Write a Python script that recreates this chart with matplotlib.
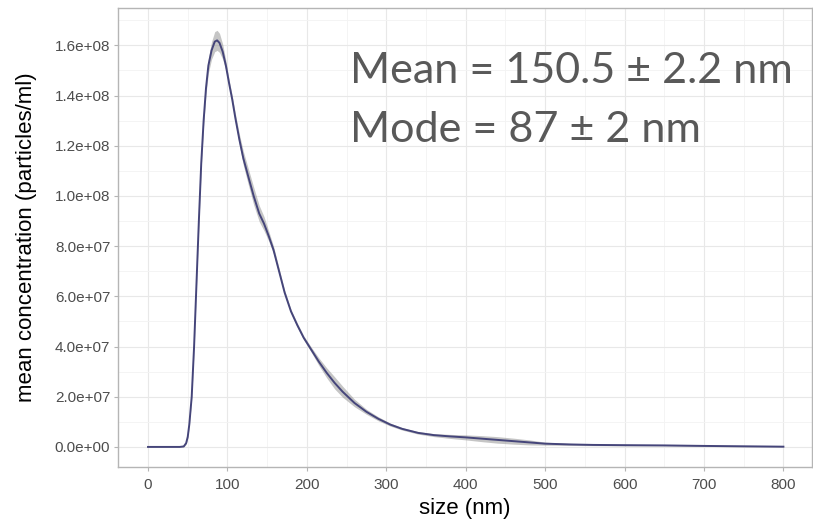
import matplotlib
matplotlib.use("Agg")
import matplotlib.pyplot as plt
from matplotlib.ticker import MultipleLocator, FuncFormatter
import numpy as np

# ---- data (size in nm, concentration in particles/ml) ----
size_nm = [0, 20, 40, 45, 48, 50, 52, 55, 58, 61, 64, 67, 70, 73, 76, 80, 84, 87,
           90, 94, 98, 102, 106, 110, 115, 120, 126, 133, 140, 146, 152, 158, 165,
           172, 180, 188, 196, 205, 215, 225, 235, 245, 260, 275, 290, 305, 320,
           340, 360, 380, 400, 420, 440, 460, 480, 500, 530, 560, 600, 650, 700,
           750, 800]
mean_conc_e6 = [0, 0, 0, 0.2, 1.5, 4, 9, 20, 40, 65, 90, 113, 130, 143, 152, 158,
                161.5, 162, 161, 157.5, 152, 145, 138.5, 131, 122.5, 115, 108, 100,
                93, 89, 84, 78.5, 70, 61.5, 54, 48.5, 43.5, 39, 34, 29.5, 25.5, 22,
                17.5, 14, 11.2, 8.9, 7.2, 5.6, 4.7, 4.2, 3.8, 3.3, 2.8, 2.3, 1.8,
                1.3, 1.0, 0.8, 0.7, 0.6, 0.4, 0.25, 0.1]
band_sd_e6 = [0, 0, 0, 0.2, 0.4, 0.5, 0.6, 0.8, 1.0, 1.2, 1.5, 1.8, 2.0, 2.5, 3.0,
              3.5, 4.0, 4.0, 3.8, 3.0, 2.0, 1.5, 1.5, 1.8, 2.2, 2.8, 3.2, 3.5,
              3.2, 2.8, 2.0, 1.5, 1.2, 1.0, 0.8, 0.8, 0.8, 1.0, 1.5, 2.0, 2.4,
              2.2, 1.5, 1.0, 0.8, 0.6, 0.5, 0.5, 0.6, 0.8, 1.0, 1.2, 1.3, 1.2,
              1.0, 0.6, 0.4, 0.3, 0.3, 0.2, 0.2, 0.2, 0.1]

x_ticks = [0, 100, 200, 300, 400, 500, 600, 700, 800]
y_ticks = [0, 2e7, 4e7, 6e7, 8e7, 1e8, 1.2e8, 1.4e8, 1.6e8]
annot_lines = ["Mean = 150.5 ± 2.2 nm", "Mode = 87 ± 2 nm"]
x_label = "size (nm)"
y_label = "mean concentration (particles/ml)"

# ---- figure ----
W, H = 813, 526
fig = plt.figure(figsize=(W / 100, H / 100), dpi=100)
plt.rcParams['font.family'] = ['Liberation Sans', 'DejaVu Sans']

left_px, right_px, top_px, bottom_px = 118, 812, 8, 467
ax = fig.add_axes([left_px / W, 1 - bottom_px / H,
                   (right_px - left_px) / W, (bottom_px - top_px) / H])

x = np.array(size_nm, dtype=float)
m = np.array(mean_conc_e6) * 1e6
sd = np.array(band_sd_e6) * 1e6

ax.fill_between(x, m - sd, m + sd, color='#8c8c8c', alpha=0.5, lw=0, zorder=2)
ax.plot(x, m, color='#45457a', lw=1.4, zorder=3, solid_joinstyle='round')

ax.set_xlim(-37.8, 836)
ax.set_ylim(-8.0e6, 1.749e8)

ax.set_xticks(x_ticks)
ax.set_yticks(y_ticks)
ax.xaxis.set_minor_locator(MultipleLocator(50))
ax.yaxis.set_minor_locator(MultipleLocator(1e7))
ax.yaxis.set_major_formatter(FuncFormatter(lambda v, p: f"{v:.1e}"))

ax.grid(which='major', color='#e8e8e8', lw=0.8, zorder=0)
ax.grid(which='minor', color='#f3f3f3', lw=0.6, zorder=0)
ax.set_axisbelow(True)

for s in ax.spines.values():
    s.set_color('#b5b5b5')
    s.set_linewidth(1.0)

ax.tick_params(which='major', length=3, width=0.8, color='#b5b5b5',
               labelcolor='#4d4d4d', labelsize=11)
ax.tick_params(axis='x', pad=5)
ax.tick_params(axis='y', pad=2.5)
ax.tick_params(which='minor', length=0)

ax.set_xlabel(x_label, fontsize=16, color='black')
ax.set_ylabel(y_label, fontsize=16, color='black')
ax.xaxis.set_label_coords(0.5, -(498 - bottom_px) / (bottom_px - top_px))
ax.yaxis.set_label_coords((37 - left_px) / (right_px - left_px), 0.5)

# annotation text (scaled to match reference width)
t1 = fig.text(350 / W, 1 - 83 / H, annot_lines[0], fontsize=30, color='#595959',
              family=['Lato', 'DejaVu Sans'], va='baseline', ha='left')
fig.canvas.draw()
w = t1.get_window_extent().width
fs = 30 * 443 / w
t1.set_fontsize(fs)
fig.text(350 / W, 1 - 142 / H, annot_lines[1], fontsize=fs, color='#595959',
         family=['Lato', 'DejaVu Sans'], va='baseline', ha='left')

fig.savefig("out.png", dpi=100, facecolor='white')
